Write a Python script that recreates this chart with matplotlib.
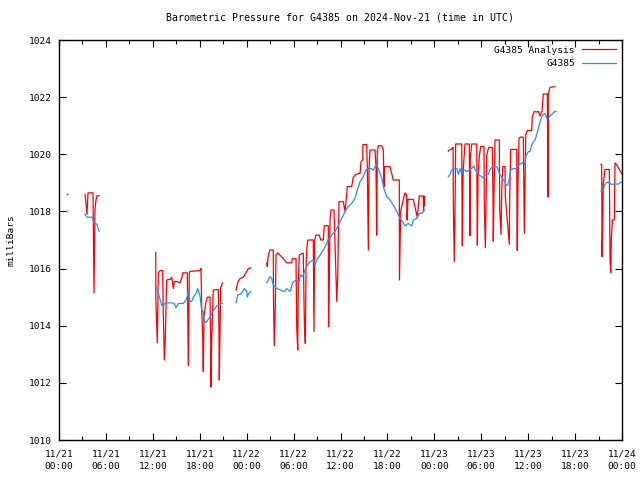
import numpy as np
import matplotlib
matplotlib.use('Agg')
import matplotlib.pyplot as plt

nan = np.nan

# hours since 2024-11-21 00:00 UTC; nan marks a data gap
ana_t = [1.02, nan,
         3.33, 3.45, 3.58, 3.71, 4.35, 4.41, 4.48, 4.60, 4.73, 4.86, 5.12, nan,
         12.37, 12.38, 12.57, 12.70, 12.92, 13.26, 13.34, 13.47, 13.59, 13.77, 14.29, 14.41,
         14.62, 14.75, 15.05, 15.47, 15.69, 15.82, 16.41, 16.54, 16.66, 16.75, 18.03, 18.16,
         18.25, 18.38, 18.45, 18.54, 18.76, 18.97, 19.31, 19.40, 19.44, 19.53, 19.73, 20.37,
         20.46, 20.50, 20.59, 20.68, 20.81, 20.88, nan,
         22.64, 22.85, 22.93, 23.15, 23.57, 24.01, 24.21, 24.52, nan,
         26.56, 26.64, 26.77, 26.98, 27.41, 27.43, 27.53, 27.66, 27.75, 27.97, 28.26, 28.69,
         29.12, 29.76, 29.84, 30.31, 30.40, 30.53, 30.60, 30.73, 31.04, 31.24, 31.37, 31.50,
         31.59, 31.68, 31.81, 32.52, 32.57, 32.61, 32.70, 32.87, 33.29, 33.47, 33.80, 33.93,
         34.44, 34.47, 34.57, 34.66, 34.79, 35.17, 35.43, 35.52, 35.64, 35.81, 36.36, 36.58,
         36.70, 36.87, 37.43, 37.64, 37.86, 38.28, 38.50, 38.62, 38.84, 38.86, 39.35, 39.43,
         39.56, 39.65, 39.77, 40.41, 40.54, 40.63, 40.70, 40.84, 41.27, 41.48, 41.57, 41.65,
         41.91, 42.33, 42.55, 42.75, 43.52, 43.54, 43.61, 43.70, 43.96, 44.25, 44.47, 44.51,
         44.63, 45.31, 45.66, 45.82, 46.08, 46.59, 46.62, 46.68, 46.72, nan,
         49.79, 49.92, 50.22, 50.35, 50.40, 50.43, 50.55, 50.64, 50.73, 51.50, 51.54, 51.58,
         51.67, 51.76, 51.92, 52.47, 52.52, 52.55, 52.60, 52.78, 53.42, 53.46, 53.50, 53.59,
         53.75, 53.93, 54.35, 54.39, 54.52, 54.61, 54.70, 54.95, 55.41, 55.50, 55.54, 55.63,
         55.76, 56.31, 56.36, 56.53, 56.62, 56.75, 57.04, 57.08, 57.59, 57.64, 57.77, 58.54,
         58.57, 58.61, 58.70, 58.83, 59.00, 59.38, 59.51, 59.60, 59.69, 59.89, 60.45, 60.53,
         60.79, 61.09, 61.30, 61.52, 61.64, 61.77, 61.94, 62.45, 62.50, 62.54, 62.57, 62.70,
         62.79, 63.43, nan,
         69.32, 69.40, 69.45, 69.53, 69.61, 69.83, 70.38, 70.43, 70.47, 70.56, 70.64, 70.77,
         71.02, 71.11, 71.33, 71.75, 71.97, 72.3]
ana_p = [1018.6, nan,
         1018.6, 1018.3, 1017.9, 1018.65, 1018.65, 1016.9, 1015.15, 1018.05, 1018.4, 1018.55, 1018.55, nan,
         1016.57, 1015.0, 1013.4, 1015.85, 1015.93, 1015.93, 1014.4, 1012.8, 1013.5, 1015.6, 1015.63, 1015.7,
         1015.3, 1015.55, 1015.55, 1015.5, 1015.65, 1015.85, 1015.85, 1012.6, 1015.85, 1015.9, 1015.93, 1016.0,
         1014.55, 1013.6, 1012.4, 1014.3, 1014.8, 1015.0, 1015.0, 1013.5, 1011.85, 1013.5, 1015.25, 1015.27,
         1013.7, 1012.1, 1013.7, 1015.35, 1015.4, 1015.5, nan,
         1015.25, 1015.5, 1015.55, 1015.65, 1015.7, 1015.9, 1016.0, 1016.02, nan,
         1016.2, 1016.07, 1016.47, 1016.65, 1016.65, 1015.0, 1013.3, 1014.67, 1016.47, 1016.55, 1016.47, 1016.35,
         1016.2, 1016.2, 1016.35, 1016.35, 1013.96, 1013.15, 1015.5, 1016.47, 1016.53, 1016.53, 1014.2, 1013.38,
         1015.95, 1016.65, 1017.0, 1017.0, 1015.25, 1013.8, 1017.0, 1017.17, 1017.17, 1017.0, 1017.0, 1017.5,
         1017.5, 1013.96, 1015.7, 1017.7, 1018.05, 1018.05, 1015.7, 1014.85, 1015.7, 1018.34, 1018.34, 1018.0,
         1018.34, 1018.87, 1018.87, 1019.2, 1019.27, 1019.33, 1019.33, 1019.74, 1019.8, 1020.34, 1020.34, 1019.5,
         1016.65, 1019.5, 1020.15, 1020.15, 1019.57, 1017.17, 1020.09, 1020.3, 1020.3, 1020.15, 1018.87, 1019.57,
         1019.57, 1019.57, 1019.33, 1019.1, 1019.1, 1015.6, 1016.65, 1018.0, 1018.34, 1018.65, 1018.57, 1017.7,
         1018.42, 1018.42, 1018.0, 1017.8, 1018.54, 1018.54, 1018.0, 1018.54, 1018.2, nan,
         1020.11, 1020.15, 1020.18, 1020.24, 1020.24, 1018.28, 1016.24, 1017.87, 1020.36, 1020.36, 1018.57, 1016.8,
         1019.2, 1019.74, 1020.36, 1020.36, 1018.34, 1017.15, 1019.86, 1020.36, 1020.36, 1018.6, 1016.82, 1019.2,
         1019.92, 1020.27, 1020.27, 1018.28, 1016.73, 1018.2, 1019.97, 1020.24, 1020.24, 1018.57, 1016.96, 1018.63,
         1020.5, 1020.5, 1018.05, 1017.2, 1018.75, 1019.57, 1019.57, 1018.52, 1016.85, 1018.5, 1020.17, 1020.17,
         1017.58, 1016.63, 1019.1, 1020.56, 1020.6, 1020.6, 1017.23, 1018.87, 1020.68, 1020.83, 1020.83, 1021.32,
         1021.5, 1021.48, 1021.5, 1021.34, 1021.43, 1021.5, 1022.11, 1022.11, 1020.32, 1018.5, 1022.08, 1022.25,
         1022.34, 1022.37, nan,
         1019.65, 1019.65, 1016.42, 1017.58, 1018.98, 1019.47, 1019.47, 1017.7, 1016.3, 1015.86, 1017.06, 1017.7,
         1017.7, 1019.7, 1019.62, 1019.43, 1019.33, 1019.2]

obs_t = [1.02, nan,
         3.33, 3.58, 3.84, 4.22, 4.48, 4.86, 5.12, nan,
         12.32, 12.49, 12.62, 12.83, 13.01, 13.13, 13.34, 13.56, 13.77, 14.41, 14.71, 14.96,
         15.26, 15.90, 16.33, 16.54, 16.75, 16.97, 17.18, 17.52, 17.74, 18.03, 18.25, 18.45,
         18.58, 18.76, 19.09, 19.40, 19.66, 19.95, 20.17, 20.59, 20.88, nan,
         22.64, 22.85, 23.15, 23.49, 23.70, 24.01, 24.08, 24.21, 24.52, nan,
         26.56, 26.77, 26.98, 27.20, 27.41, 27.62, 27.84, 28.26, 28.69, 28.90, 29.12, 29.45,
         29.63, 29.76, 29.97, 30.40, 30.73, 30.91, 31.17, 31.46, 31.68, 32.10, 32.52, 32.74,
         32.96, 33.38, 33.80, 34.02, 34.44, 34.88, 35.30, 35.72, 35.94, 36.36, 36.70, 37.00,
         37.43, 37.86, 38.15, 38.50, 38.92, 39.26, 39.56, 39.90, 40.20, 40.41, 40.63, 40.96,
         41.27, 41.60, 41.91, 42.33, 42.75, 43.19, 43.61, 43.96, 44.25, 44.67, 45.11, 45.31,
         45.75, 46.08, 46.39, 46.72, nan,
         49.79, 50.00, 50.22, 50.43, 50.86, 51.07, 51.28, 51.50, 51.63, 51.92, 52.14, 52.47,
         52.78, 53.07, 53.20, 53.42, 53.75, 54.06, 54.26, 54.48, 54.90, 55.12, 55.34, 55.76,
         56.05, 56.40, 56.62, 56.82, 57.04, 57.17, 57.38, 57.59, 57.77, 58.10, 58.45, 58.61,
         58.96, 59.17, 59.38, 59.60, 59.72, 60.02, 60.24, 60.45, 60.66, 60.88, 61.09, 61.30,
         61.52, 61.73, 61.94, 62.15, 62.37, 62.58, 62.79, 63.14, 63.35, 63.56, nan,
         69.32, 69.61, 69.74, 70.04, 70.38, 70.64, 70.89, 71.11, 71.45, 71.75, 71.97, 72.3]
obs_p = [1018.0, nan,
         1017.9, 1017.8, 1017.8, 1017.8, 1017.6, 1017.55, 1017.3, nan,
         1015.4, 1015.3, 1015.25, 1015.0, 1014.85, 1014.7, 1014.8, 1014.75, 1014.8, 1014.8, 1014.78, 1014.63,
         1014.78, 1014.78, 1014.95, 1015.2, 1014.85, 1014.85, 1015.0, 1015.13, 1015.3, 1015.04, 1014.55, 1014.5,
         1014.2, 1014.1, 1014.22, 1014.34, 1014.5, 1014.6, 1014.7, 1014.75, 1014.78, nan,
         1014.8, 1015.07, 1015.1, 1015.2, 1015.3, 1015.2, 1015.0, 1015.1, 1015.2, nan,
         1015.5, 1015.6, 1015.72, 1015.65, 1015.42, 1015.36, 1015.3, 1015.26, 1015.2, 1015.21, 1015.3, 1015.21,
         1015.23, 1015.4, 1015.54, 1015.6, 1015.54, 1015.78, 1015.72, 1015.95, 1016.07, 1016.24, 1016.3, 1016.12,
         1016.3, 1016.47, 1016.65, 1016.76, 1017.0, 1017.17, 1017.3, 1017.5, 1017.64, 1017.87, 1018.05, 1018.17,
         1018.28, 1018.46, 1018.75, 1019.04, 1019.22, 1019.45, 1019.5, 1019.5, 1019.45, 1019.57, 1019.63, 1019.4,
         1019.16, 1018.75, 1018.52, 1018.4, 1018.22, 1018.0, 1017.76, 1017.64, 1017.49, 1017.58, 1017.49, 1017.7,
         1017.76, 1017.93, 1017.93, 1018.03, nan,
         1019.22, 1019.3, 1019.45, 1019.5, 1019.5, 1019.3, 1019.5, 1019.3, 1019.45, 1019.45, 1019.39, 1019.45,
         1019.5, 1019.59, 1019.45, 1019.39, 1019.27, 1019.22, 1019.16, 1019.27, 1019.29, 1019.47, 1019.54, 1019.59,
         1019.54, 1019.27, 1019.22, 1019.1, 1019.04, 1018.92, 1018.92, 1019.16, 1019.45, 1019.5, 1019.5, 1019.56,
         1019.66, 1019.68, 1019.74, 1019.62, 1019.94, 1020.09, 1020.1, 1020.32, 1020.44, 1020.5, 1020.68, 1020.91,
         1021.14, 1021.29, 1021.41, 1021.43, 1021.26, 1021.26, 1021.34, 1021.43, 1021.49, 1021.51, nan,
         1018.7, 1018.7, 1018.92, 1019.02, 1019.0, 1018.95, 1018.95, 1018.97, 1018.95, 1019.0, 1019.02, 1019.03]

tick_hours = list(range(0, 73, 6))
tick_labels = ['11/21\n00:00', '11/21\n06:00', '11/21\n12:00', '11/21\n18:00',
               '11/22\n00:00', '11/22\n06:00', '11/22\n12:00', '11/22\n18:00',
               '11/23\n00:00', '11/23\n06:00', '11/23\n12:00', '11/23\n18:00',
               '11/24\n00:00']

plt.rcParams['font.family'] = ['DejaVu Sans Mono']
plt.rcParams['font.size'] = 6.8

fig = plt.figure(figsize=(6.4, 4.8), dpi=100)
ax = fig.add_axes([59/640, 40/480, 563/640, 400/480])

ax.plot(ana_t, ana_p, '-', color='#ff0000', lw=0.9, label='G4385 Analysis')
ax.plot(obs_t, obs_p, '-', color='#1e90ff', lw=0.9, label='G4385')
# isolated single readings
ax.plot(ana_t[0], ana_p[0], 's', color='#ff0000', ms=1.2, mew=0)
ax.plot(obs_t[0], obs_p[0], 's', color='#1e90ff', ms=1.2, mew=0)

ax.set_xlim(0, 72)
ax.set_ylim(1010, 1024)
ax.set_xticks(tick_hours)
ax.set_xticklabels(tick_labels, linespacing=1.5)
ax.set_xticks(range(3, 72, 6), minor=True)
ax.set_yticks(range(1010, 1025, 2))
ax.tick_params(direction='in', top=True, right=True, length=5, width=0.8, pad=5)
ax.tick_params(axis='x', pad=7)
ax.tick_params(which='minor', direction='in', top=True, length=3, width=0.8)
for s in ax.spines.values():
    s.set_linewidth(1)

ax.set_ylabel('milliBars')
ax.yaxis.set_label_coords(-0.078, 0.5)
ax.set_title('Barometric Pressure for G4385 on 2024-Nov-21 (time in UTC)', fontsize=7.1, pad=14)

ax.legend(loc='upper right', frameon=False, markerfirst=False, handlelength=3.6,
          handletextpad=0.8, labelspacing=0.45, borderaxespad=0.2)

fig.savefig('out.png', dpi=100)
